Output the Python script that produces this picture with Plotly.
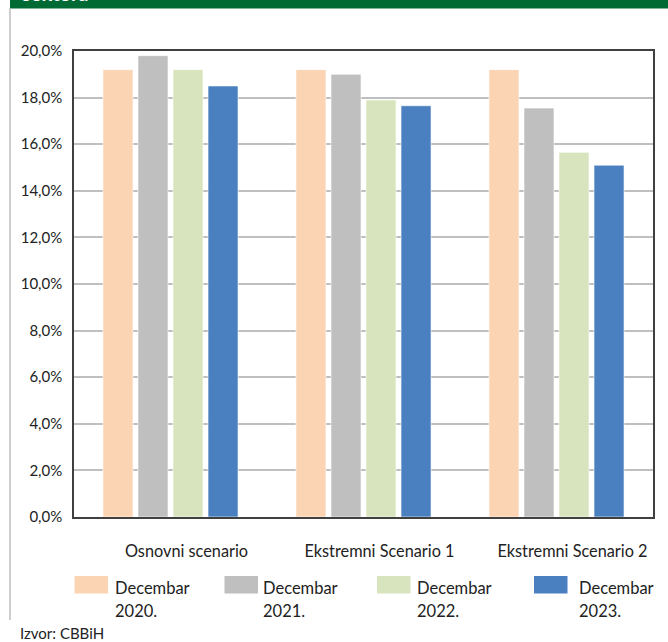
import plotly.graph_objects as go

categories = ["Osnovni scenario", "Ekstremni Scenario 1", "Ekstremni Scenario 2"]
series_names = ["Decembar 2020.", "Decembar 2021.", "Decembar 2022.", "Decembar 2023."]
dec_2020 = [19.2, 19.2, 19.2]
dec_2021 = [19.8, 19.0, 17.55]
dec_2022 = [19.2, 17.9, 15.65]
dec_2023 = [18.5, 17.65, 15.1]
y_ticks = [0, 2, 4, 6, 8, 10, 12, 14, 16, 18, 20]
y_tick_labels = ["0,0%", "2,0%", "4,0%", "6,0%", "8,0%", "10,0%", "12,0%", "14,0%", "16,0%", "18,0%", "20,0%"]
colors = ["#FBD4B4", "#BFBFBF", "#D7E4BD", "#4A80C0"]
banner_text = "sektora"
source_text = "Izvor: CBBiH"

W, H = 668, 642
L, R, T, B = 74, 15, 51, 125
FONT = "Lato"

def px(X):
    return (X - L) / (W - L - R)

def py(Y):
    return (H - B - Y) / (H - T - B)

fig = go.Figure()
for name, vals, col in zip(series_names, [dec_2020, dec_2021, dec_2022, dec_2023], colors):
    fig.add_trace(go.Bar(x=categories, y=vals, name=name, marker=dict(color=col, line=dict(color="rgba(255,255,255,0.6)", width=1)), showlegend=False))

shapes = []
annotations = []
# banner
shapes.append(dict(type="rect", xref="paper", yref="paper", x0=px(10), x1=px(668), y0=py(8.5), y1=py(-5), fillcolor="#006A35", line=dict(width=0), layer="above"))
annotations.append(dict(text="<b>" + banner_text + "</b>", xref="paper", yref="paper", x=px(20), y=py(7), xanchor="left", yanchor="bottom", showarrow=False, font=dict(family=FONT, size=20, color="white")))
# left border
shapes.append(dict(type="line", xref="paper", yref="paper", x0=px(10), x1=px(10), y0=py(8), y1=py(620), line=dict(color="#BEBEBE", width=1.5)))

# legend
sw_x = [74.5, 224.5, 377, 534]
tx_x = [113, 261, 415.5, 576.5]
for i, name in enumerate(series_names):
    shapes.append(dict(type="rect", xref="paper", yref="paper", x0=px(sw_x[i]), x1=px(sw_x[i] + 33.5), y0=py(593.5), y1=py(576), fillcolor=colors[i], line=dict(width=0)))
    parts = name.split(" ")
    for j, part in enumerate(parts):
        annotations.append(dict(text=part, xref="paper", yref="paper", x=px(tx_x[i]), y=py(587.5 + 23 * j), xanchor="left", yanchor="middle", showarrow=False, font=dict(family=FONT, size=16.5, color="#222222")))

annotations.append(dict(text=source_text, xref="paper", yref="paper", x=px(18), y=py(633), xanchor="left", yanchor="middle", showarrow=False, font=dict(family=FONT, size=15, color="#222222")))

fig.update_layout(
    width=W, height=H,
    margin=dict(l=L, r=R, t=T, b=B),
    paper_bgcolor="white", plot_bgcolor="white",
    barmode="group", bargap=0.274, bargroupgap=0.143,
    font=dict(family=FONT, size=15, color="#222222"),
    shapes=shapes, annotations=annotations,
    showlegend=False,
)
fig.update_yaxes(range=[0, 20], tickvals=y_ticks, ticktext=y_tick_labels, showgrid=True, gridcolor="#BFBFBF", gridwidth=1.5,
                 showline=True, linecolor="#404040", linewidth=1.5, mirror=True, ticks="", ticklabelstandoff=7, zeroline=False,
                 tickfont=dict(size=15))
fig.update_xaxes(showline=True, linecolor="#404040", linewidth=1.5, mirror=True, ticks="", ticklabelstandoff=19,
                 ticklabelshift=16, tickfont=dict(size=16.3))

fig.write_html("out.html", config={"displayModeBar": False},
               post_script="document.body.style.margin='0';document.body.style.padding='0';")
